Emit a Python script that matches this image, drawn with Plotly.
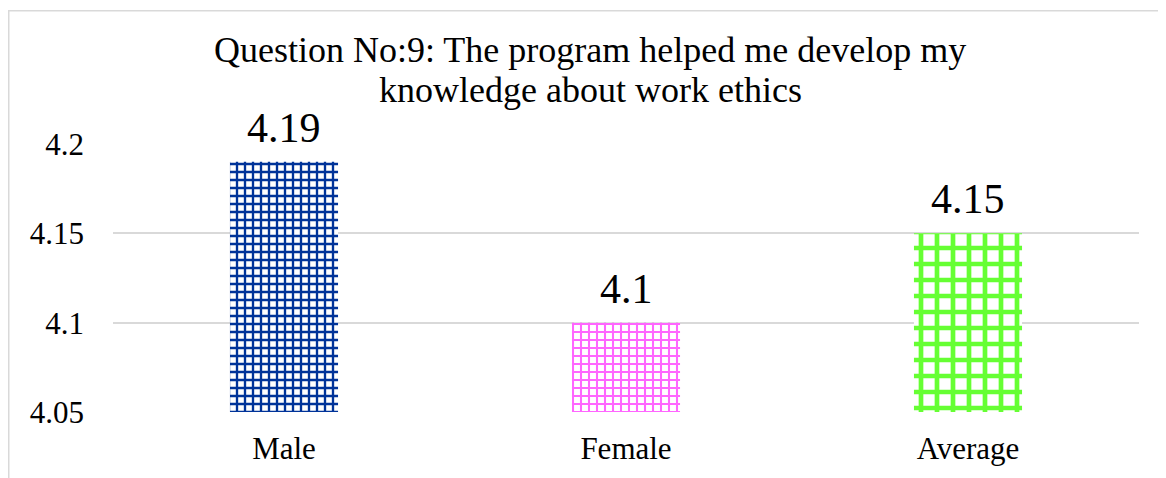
import plotly.graph_objects as go

categories = ["Male", "Female", "Average"]
values = [4.19, 4.10, 4.15]
value_labels = ["4.19", "4.1", "4.15"]
tick_vals = [4.05, 4.10, 4.15, 4.20]
tick_text = ["4.05", "4.1", "4.15", "4.2"]
title_lines = ["Question No:9: The program helped me develop my", "knowledge about work ethics"]

colors = ["#003399", "#ff66ff", "#66ff33"]
shapes_p = ["+", "+", "+"]
sizes_p = [8, 8, 16]
solid_p = [0.5, 0.45, 0.5]

FONT = "Liberation Serif"

fig = go.Figure()
for i, (c, v) in enumerate(zip(categories, values)):
    fig.add_trace(go.Bar(
        x=[c], y=[v],
        width=0.316,
        marker=dict(
            color="white",
            line=dict(width=0),
            pattern=dict(shape=shapes_p[i], fgcolor=colors[i], bgcolor="white",
                         size=sizes_p[i], solidity=solid_p[i], fillmode="replace"),
        ),
        showlegend=False, hoverinfo="skip",
    ))

# figure geometry (the page adds an 8px body margin)
W, H = 1158, 470
ml, mr, mt, mb = 105, 27, 136, 66
pw = W - ml - mr
ph = H - mt - mb

def px_to_paper_x(px):
    return (px - ml) / pw

def px_to_paper_y(py):
    return (H - mb - py) / ph

annotations = []
for c, v, t in zip(categories, values, value_labels):
    annotations.append(dict(x=c, y=v, xref="x", yref="y", text=t, showarrow=False,
                            yanchor="middle", yshift=34,
                            font=dict(family=FONT, size=42, color="black")))
title_y = [42, 82]
for line, ty in zip(title_lines, title_y):
    annotations.append(dict(x=px_to_paper_x(582), y=px_to_paper_y(ty), xref="paper", yref="paper",
                            text=line, showarrow=False, xanchor="center", yanchor="middle",
                            font=dict(family=FONT, size=36, color="black")))

fig.update_layout(
    width=W, height=H,
    margin=dict(l=ml, r=mr, t=mt, b=mb),
    paper_bgcolor="white", plot_bgcolor="white",
    xaxis=dict(showline=False, showgrid=False, ticks="", ticklabelstandoff=15,
               tickfont=dict(family=FONT, size=31, color="black")),
    yaxis=dict(range=[4.05, 4.2], tickvals=tick_vals, ticktext=tick_text,
               showgrid=True, gridcolor="#d9d9d9", gridwidth=1.5, zeroline=False,
               showline=False, ticks="", ticklabelstandoff=28,
               tickfont=dict(family=FONT, size=31, color="black")),
    annotations=annotations,
    shapes=[dict(type="rect", xref="paper", yref="paper",
                 x0=px_to_paper_x(0.75), x1=px_to_paper_x(1157), y0=px_to_paper_y(490), y1=px_to_paper_y(2.75),
                 line=dict(color="#d9d9d9", width=1.5), fillcolor="rgba(0,0,0,0)", layer="below")],
)
fig.write_html("out.html")
